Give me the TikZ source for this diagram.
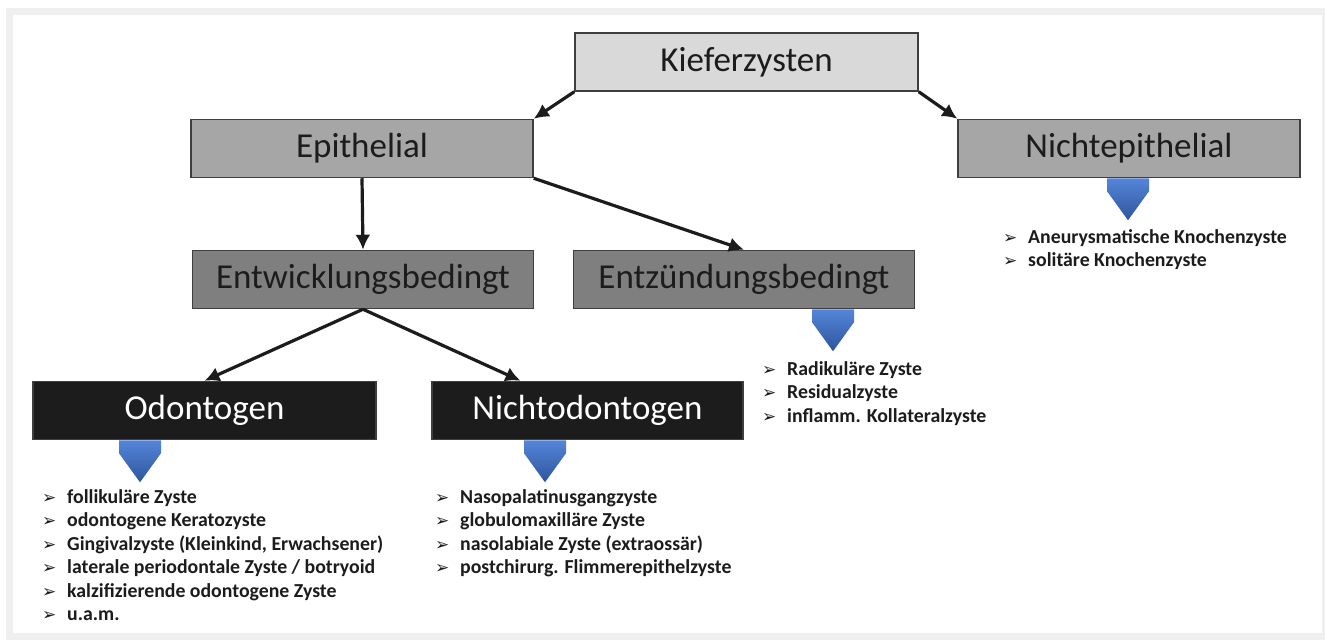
\documentclass[tikz,border=0pt]{standalone}
\usepackage{fontspec}
\setmainfont{Carlito}
\newfontfamily\symfont{DejaVu Sans}
\usetikzlibrary{arrows.meta}

\definecolor{hellgrau}{HTML}{D9D9D9}
\definecolor{mittelgrau}{HTML}{A6A6A6}
\definecolor{dunkelgrau}{HTML}{7F7F7F}
\definecolor{fastschwarz}{HTML}{1C1C1C}
\definecolor{rahmengrau}{HTML}{EFEFEF}
\definecolor{randgrau}{HTML}{3F3F3F}
\definecolor{blauhell}{HTML}{5585D8}
\definecolor{blaudunkel}{HTML}{2E559E}

% Aufzaehlungszeichen und Blockpfeil
\newcommand{\bul}{\makebox[25pt][l]{\symfont\fontsize{17}{17}\selectfont ➢}}
\newcommand{\blockpfeil}[1]{\shade[pfeil] (#1) ++(-21,0) -- ++(42,0) -- ++(0,13) -- ++(-21,29) -- ++(-21,-29) -- cycle;}

\begin{document}
\begin{tikzpicture}[x=1pt, y=-1pt,
	kasten/.style={draw=randgrau, line width=1.5pt, minimum height=58pt, inner sep=0pt,
		font=\fontsize{35}{40}\selectfont, text=fastschwarz},
	ebene1/.style={kasten, fill=hellgrau, minimum width=343pt},
	ebene2/.style={kasten, fill=mittelgrau, minimum width=342pt},
	ebene3/.style={kasten, fill=dunkelgrau, minimum width=341pt},
	ebene4/.style={kasten, fill=fastschwarz, text=white},
	pfeil/.style={top color=blauhell, bottom color=blaudunkel},
	verbindung/.style={line width=3.2pt, fastschwarz, -{Latex[length=15pt,width=15pt]}},
	liste/.style={align=left, inner sep=0pt, anchor=north west, text=fastschwarz,
		font=\bfseries\fontsize{19.8}{23.5}\selectfont}]
	\useasboundingbox (0,0) rectangle (1325,640);

	% Rahmen
	\fill[rahmengrau] (6,8) rectangle (1325,640);
	\fill[white] (13,15) rectangle (1322,633);

	% Kaesten
	\node[ebene1] (kiefer) at (746.5,62) {Kieferzysten};
	\node[ebene2] (epi) at (362,148.5) {Epithelial};
	\node[ebene2] (nichtepi) at (1129,148.5) {Nichtepithelial};
	\node[ebene3] (entw) at (363,279.5) {Entwicklungsbedingt};
	\node[ebene3] (entz) at (744,279.5) {Entzündungsbedingt};
	\node[ebene4, minimum width=343pt] (odo) at (204.5,410.5) {Odontogen};
	\node[ebene4, minimum width=311pt] (nodo) at (587.5,410.5) {Nichtodontogen};

	% Verbindungen
	\draw[verbindung] (kiefer.south west) -- (epi.north east);
	\draw[verbindung] (kiefer.south east) -- (nichtepi.north west);
	\draw[verbindung] (epi.south) -- (entw.north);
	\draw[verbindung] (epi.south east) -- (entz.north);
	\draw[verbindung] (entw.south) -- (odo.north);
	\draw[verbindung] (entw.south) -- ([xshift=-67pt]nodo.north);

	% Blockpfeile
	\blockpfeil{[xshift=-64.5pt]odo.south}
	\blockpfeil{[xshift=-42.5pt]nodo.south}
	\blockpfeil{[xshift=89pt]entz.south}
	\blockpfeil{[xshift=-1pt]nichtepi.south}

	% Listen
	\node[liste] (odoliste) at (42,489) {\bul follikuläre Zyste\\
		\bul odontogene Keratozyste\\
		\bul Gingivalzyste (Kleinkind, Erwachsener)\\
		\bul laterale periodontale Zyste / botryoid\\
		\bul kalzifizierende odontogene Zyste\\
		\bul u.a.m.};
	\node[liste] (nodoliste) at (435,489) {\bul Nasopalatinusgangzyste\\
		\bul globulomaxilläre Zyste\\
		\bul nasolabiale Zyste (extraossär)\\
		\bul postchirurg. Flimmerepithelzyste};
	\node[liste] (entzliste) at (762,361) {\bul Radikuläre Zyste\\
		\bul Residualzyste\\
		\bul inflamm. Kollateralzyste};
	\node[liste] (nichtepiliste) at (1003,229) {\bul Aneurysmatische Knochenzyste\\
		\bul solitäre Knochenzyste};
\end{tikzpicture}
\end{document}
